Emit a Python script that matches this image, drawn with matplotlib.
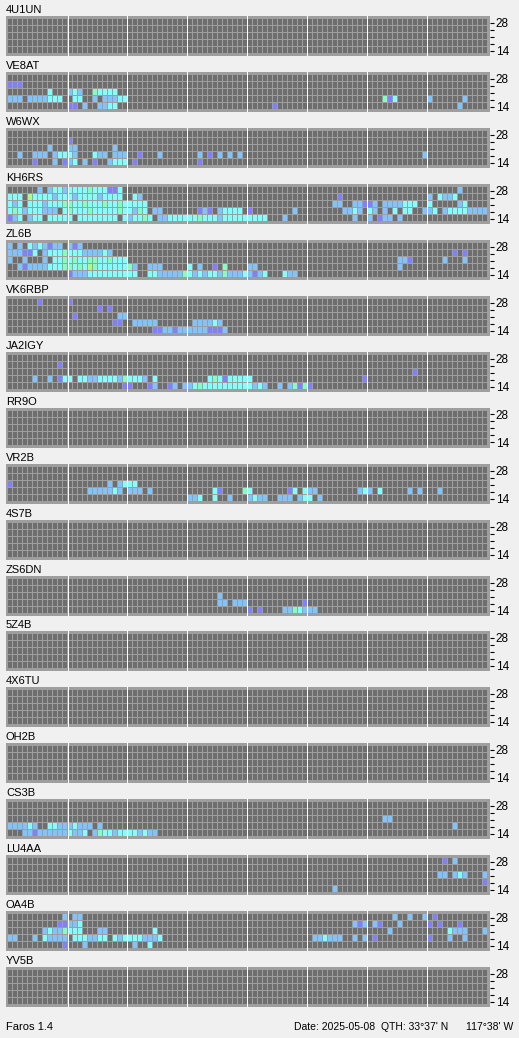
import matplotlib
matplotlib.use("Agg")
import matplotlib.pyplot as plt

plt.rcParams['font.family'] = ['Liberation Sans', 'DejaVu Sans']

W, H = 519, 1038

# 96 quarter-hour slots (8 blocks of 12), rows top -> bottom: 28, 24, 21, 18, 14 MHz
# '.' = not heard, p/b/c/m/g = signal level, weak -> strong
EMPTY_ROW = "............ ............ ............ ............ ............ ............ ............ ............"

stations = ["4U1UN", "VE8AT", "W6WX", "KH6RS", "ZL6B", "VK6RBP", "JA2IGY", "RR9O", "VR2B",
            "4S7B", "ZS6DN", "5Z4B", "4X6TU", "OH2B", "CS3B", "LU4AA", "OA4B", "YV5B"]

band_ticks = ["14", "", "", "", "28"]

ve8at = [
    EMPTY_ROW,
    "ppp......... ............ ............ ............ ............ ............ ............ ............",
    "........c... bcb..mcccc.. ............ ............ ............ ............ ............ ............",
    "bbb.bbbbccc. .cc..b.bbbcc ............ ............ ............ ............ ...mpc...... b......b....",
    "............ pp.b..bbcc.. ............ ............ .....p...... ............ ............ ......b.....",
]
w6wx = [
    EMPTY_ROW,
    "............ p........... ............ ............ ............ ............ ............ ............",
    "........b... bb.......b.. ............ ............ ............ ............ ............ ............",
    "..b..bbb.bcc cb...cbb.bbb ..p...b..... ..b.p.b.b.b. ............ ............ ...........b ............",
    ".....p...b.p bc.b.p..bccc .p.......... ..p......... ............ ............ ............ ............",
]
kh6rs = [
    "......b.bccb ccccmcccppc. ............ ............ ............ ............ ............ ......b.....",
    "ccc.gccccbcc cbccccbcccc. .cb......... ............ ............ ......p..... ............ b.cbbc......",
    "cbc.cccbcccm mccmcccmccmc cccc........ ............ ............ .....bb..bbp pb.bbbbccc.. c.....bc....",
    "cmcbcccbbb.c mcccmcccccmc cbmc.bb..... ..pbp.bcccc. p........b.. .......bbcb. cb.b.c.cc..b bc.bccccbbbb",
    "pbc.bcc.cccc c.cccccccc.c bccmc.bbcccc ccmcccbccccc cccc...b.... .........b.. b.pbb.b..... ............",
]
zl6b = [
    "b.b.cbcbpbb. bpb......... ............ ............ ............ ............ ............ ............",
    "bbbppc.bcccm cccbbbbcb... ............ ............ ............ ............ ............ .....p.p....",
    "b..b...b.ccm cmccmmccmccc ............ ............ ............ ............ ......bbp... ...b...b....",
    "..bpbbbbcccm mcmcgmcccccc mb..bbb..... c.b..p.m.... bb.......... ............ ......b..... ............",
    "............ pbbbcccccccc cc..ccbbbbbm cbcbccbmbbbc bpbc...cbb.. ............ ............ ............",
]
vk6rbp = [
    "......p..... p........... ............ ............ ............ ............ ............ ............",
    "............ ......p.p... ............ ............ ............ ............ ............ ............",
    "............ .p........bb ............ ............ ............ ............ ............ ............",
    "............ .........pp. .bbbbb...... .bbbbcb..... ............ ............ ............ ............",
    "............ ............ .....ppbbpbb bbbbpppb.... ............ ............ ............ ............",
]
ja2igy = [
    EMPTY_ROW,
    "..........p. ............ ............ ............ ............ ............ ............ ............",
    "............ ............ ............ ............ ............ ............ .........p.. ............",
    ".....b..b.pc c.ccbbccccbm cccb.c...... ....cmcpcccc c........... ...........p ............ ............",
    "............ ...........p p...pb..pb.b bcmccccccccc cbcb..b.bmpm p........... ............ ............",
]
vr2b = [
    EMPTY_ROW,
    EMPTY_ROW,
    "p........... ........b.bc cc.......... ............ ............ ............ ............ ............",
    "............ ....bbbbbcb. bbb.b....... .....cp....m c.......pc.c bb........bc b.c.....b.b. ..b.........",
    "............ ............ ............ bbc..c..b... bcbb..bbb.bc c.b......... ............ ............",
]
zs6dn = [
    EMPTY_ROW,
    EMPTY_ROW,
    "............ ............ ............ ......b..... ............ ............ ............ ............",
    "............ ............ ............ ......bb.bbb ...........p ............ ............ ............",
    "............ ............ ............ ............ p.p....bbmcb bb.......... ............ ............",
]
cs3b = [
    EMPTY_ROW,
    EMPTY_ROW,
    "............ ............ ............ ............ ............ ............ ...bb....... ............",
    "bbbbcb..ccbb bcbbb.b..... ............ ............ ............ ............ ............ .....b......",
    "...bbpbbbbbb cbbc.bmccbcc ccbcbb...... ............ ............ ............ ............ ............",
]
lu4aa = [
    "............ ............ ............ ............ ............ ............ ............ ...p.b......",
    EMPTY_ROW,
    "............ ............ ............ ............ ............ ............ ............ ..bb.bcb...b",
    "............ ............ ............ ............ ............ ............ ............ ...........p",
    "............ ............ ............ ............ ............ .....b...... ............ ............",
]
oa4b = [
    "...........b .bb......... ............ ............ ............ ............ .....b..b..b .p..........",
    "..........pp bbc......... ............ ............ ............ .........bpb .bp...b..... p.p...p.....",
    ".......bcbbm ccc...bb.... .....c...... ............ ............ ............ ....b....... ....cbbb...b",
    "bb...b.cbbbb .cccbbcc.cbc cccbbbc..... ............ ............ .bbcbbb..b.b .p.......... p...b..b....",
    "...........p ...b........ .b..c....... ............ ............ ............ ............ ............",
]
quiet = [EMPTY_ROW] * 5

grids = [quiet, ve8at, w6wx, kh6rs, zl6b, vk6rbp, ja2igy, quiet, vr2b,
         quiet, zs6dn, quiet, quiet, quiet, cs3b, lu4aa, oa4b, quiet]

LEVELS = {'p': '#8080ff', 'b': '#80c4ff', 'c': '#80ffff', 'm': '#80ffc0', 'g': '#a8ff80'}
OFF = '#6e6e6e'
FRAME = '#9e9e9e'

fig = plt.figure(figsize=(W / 100, H / 100), dpi=100)
fig.patch.set_facecolor('#f0f0f0')

for k, (name, grid) in enumerate(zip(stations, grids)):
    top = 16 + round(55.95 * k)
    ax = fig.add_axes([6 / W, 1 - (top + 40) / H, 484 / W, 40 / H])
    ax.set_facecolor(FRAME)
    for r, row in enumerate(grid):
        cells = row.replace(" ", "")
        y = 4 - r
        ax.broken_barh([(c, 0.8) for c in range(len(cells))], (y + 1 / 7, 6 / 7),
                       facecolors=[LEVELS.get(ch, OFF) for ch in cells],
                       linewidth=0, antialiased=False)
    for b in range(1, 8):
        ax.axvline(12 * b - 0.1, color='white', lw=0.72)
    ax.set_xlim(-0.4, 96.4)
    ax.set_ylim(-2 / 7, 38 / 7)
    ax.set_xticks([])
    ax.yaxis.tick_right()
    ax.set_yticks([0.5, 1.5, 2.5, 3.5, 4.5], band_ticks)
    ax.tick_params(axis='y', length=2.6, width=0.8, pad=1.5, labelsize=8.5)
    for s in ax.spines.values():
        s.set_visible(False)
    fig.text(6 / W, 1 - (top - 3.3) / H, name, fontsize=8, va='baseline')

fig.text(6 / W, 1 - 1030 / H, "Faros 1.4", fontsize=8, va='baseline')
fig.text(375 / W, 1 - 1030 / H, "Date: 2025-05-08", fontsize=7.5, va='baseline', ha='right')
fig.text(448 / W, 1 - 1030 / H, "QTH: 33°37' N", fontsize=7.5, va='baseline', ha='right')
fig.text(513 / W, 1 - 1030 / H, "117°38' W", fontsize=7.5, va='baseline', ha='right')

fig.savefig("out.png", dpi=100, facecolor=fig.get_facecolor())
